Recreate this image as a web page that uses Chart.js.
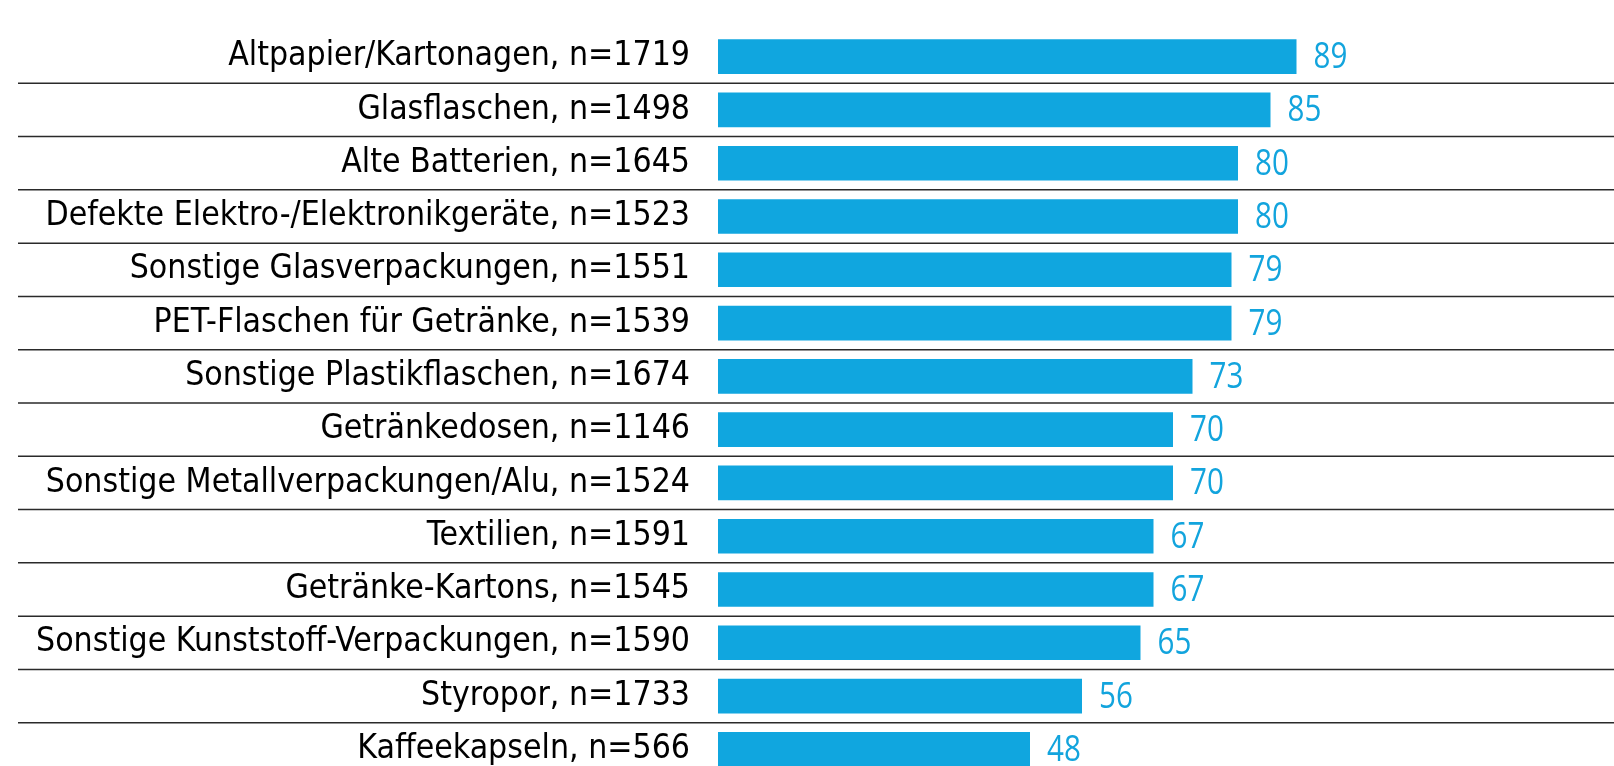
<!DOCTYPE html>
<html><head><meta charset="utf-8">
<script src="https://cdn.jsdelivr.net/npm/chart.js@4"></script>
<style>
html,body{margin:0;padding:0;overflow:hidden;background:#fff}
canvas{display:block}
</style>
</head><body>
<canvas id="c" width="1614" height="800"></canvas>
<script>
const categories = [
  "Altpapier/Kartonagen", "Glasflaschen", "Alte Batterien",
  "Defekte Elektro-/Elektronikgeräte", "Sonstige Glasverpackungen",
  "PET-Flaschen für Getränke", "Sonstige Plastikflaschen", "Getränkedosen",
  "Sonstige Metallverpackungen/Alu", "Textilien", "Getränke-Kartons",
  "Sonstige Kunststoff-Verpackungen", "Styropor", "Kaffeekapseln"
];
const sampleSizes = [1719, 1498, 1645, 1523, 1551, 1539, 1674, 1146, 1524, 1591, 1545, 1590, 1733, 566];
const values = [89, 85, 80, 80, 79, 79, 73, 70, 70, 67, 67, 65, 56, 48];
const tickLabels = categories.map((c, i) => c + ", n=" + sampleSizes[i]);

const BAR_COLOR = "#10a6df";
const LABEL_COLOR = "#12a4dd";

const separators = {
  id: "separators",
  beforeDatasetsDraw(chart) {
    const y = chart.scales.y;
    const ctx = chart.ctx;
    ctx.save();
    ctx.strokeStyle = "#2a2a2a";
    ctx.lineWidth = 1.5;
    for (let i = 0; i < tickLabels.length - 1; i++) {
      const py = (y.getPixelForValue(i) + y.getPixelForValue(i + 1)) / 2;
      ctx.beginPath();
      ctx.moveTo(y.left, py);
      ctx.lineTo(chart.width, py);
      ctx.stroke();
    }
    ctx.restore();
  }
};

const valueLabels = {
  id: "valueLabels",
  afterDatasetsDraw(chart) {
    const ctx = chart.ctx;
    const meta = chart.getDatasetMeta(0);
    ctx.fillStyle = LABEL_COLOR;
    ctx.font = "37px 'Open Sans', 'DejaVu Sans Condensed', sans-serif";
    ctx.textAlign = "left";
    ctx.textBaseline = "middle";
    meta.data.forEach((bar, i) => {
      ctx.save();
      ctx.translate(bar.x + 17, bar.y + 1);
      ctx.scale(0.8, 1);
      ctx.fillText(String(values[i]), 0, 0);
      ctx.restore();
    });
  }
};

new Chart(document.getElementById("c"), {
  type: "bar",
  data: {
    labels: tickLabels,
    datasets: [{
      data: values,
      backgroundColor: BAR_COLOR,
      borderWidth: 0,
      barPercentage: 0.65,
      categoryPercentage: 1.0
    }]
  },
  options: {
    indexAxis: "y",
    responsive: false,
    animation: false,
    events: [],
    layout: { padding: { left: 18, right: 246, top: 30, bottom: 24 } },
    plugins: { legend: { display: false }, tooltip: { enabled: false } },
    scales: {
      x: {
        display: false,
        min: 0, max: 100
      },
      y: {
        border: { display: false },
        grid: { display: false, drawTicks: false },
        afterFit(scale) {
          scale.width = 700;
          scale.paddingTop = 0;
          scale.paddingBottom = 0;
        },
        ticks: {
          color: "#000",
          padding: 28,
          font: { family: "'DejaVu Sans Condensed', 'DejaVu Sans', sans-serif", size: 33.5 }
        }
      }
    }
  },
  plugins: [separators, valueLabels]
});
</script>
</body></html>
